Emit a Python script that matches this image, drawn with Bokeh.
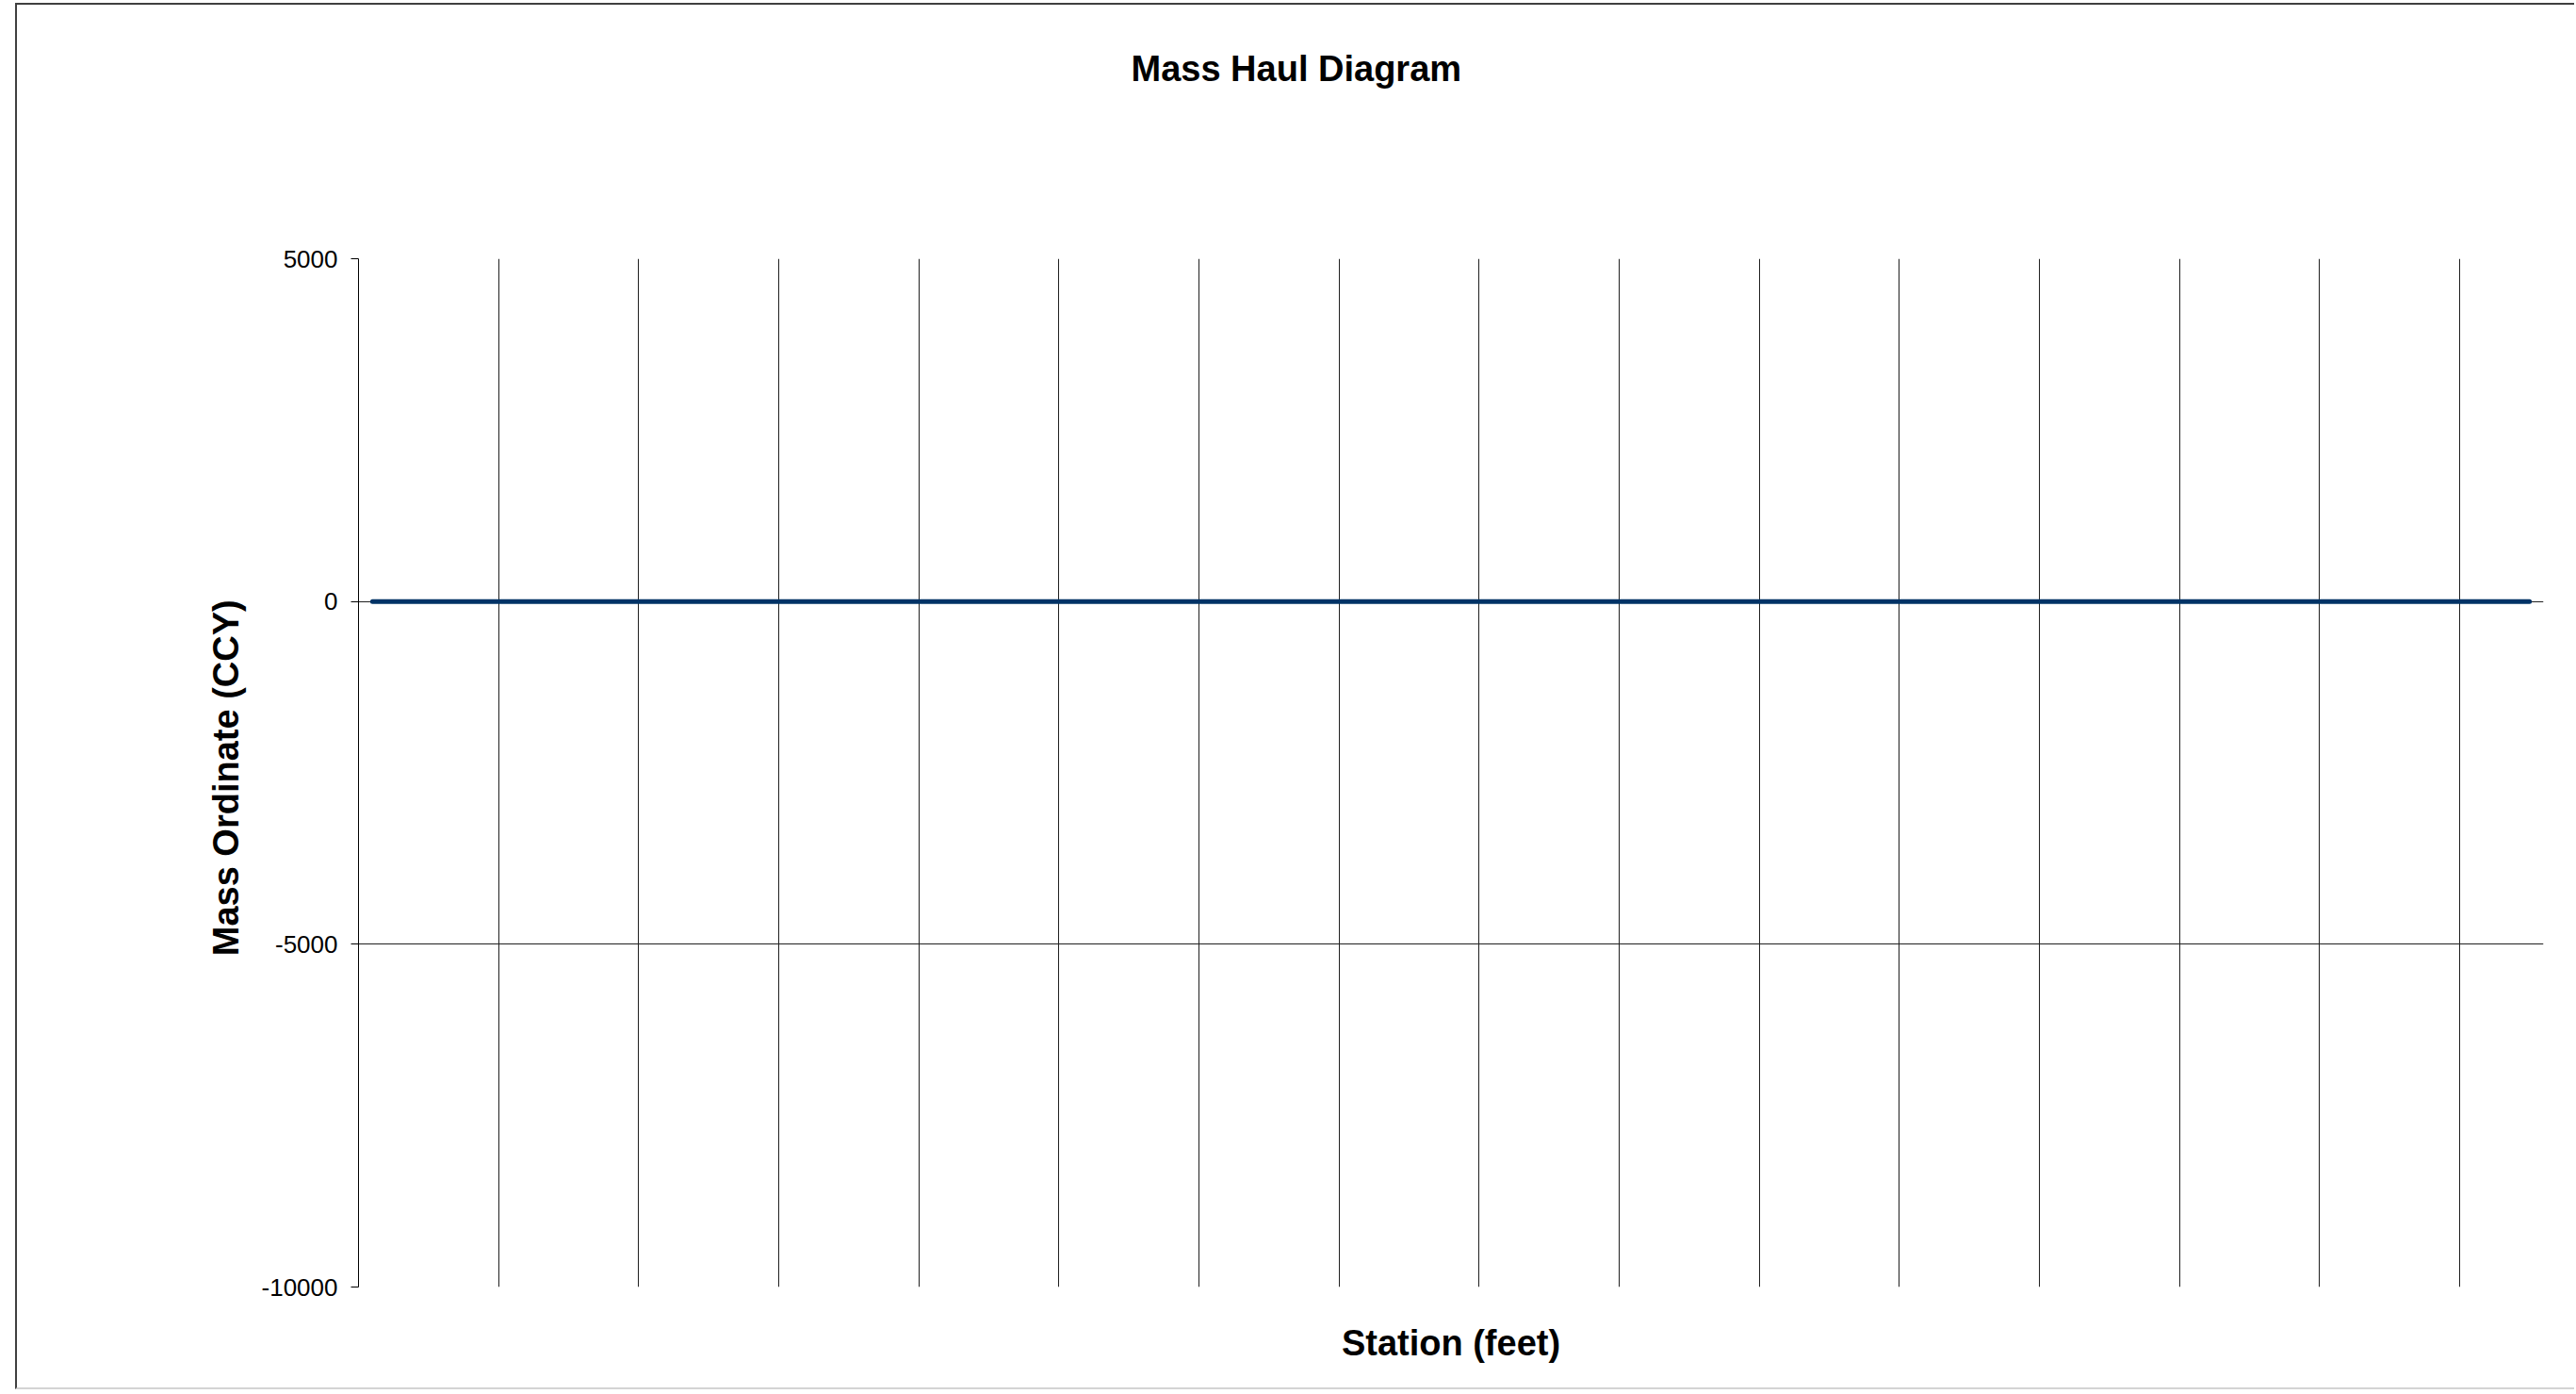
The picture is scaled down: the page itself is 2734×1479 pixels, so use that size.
from bokeh.plotting import figure
from bokeh.models import Range1d, FixedTicker, Title, CustomJSTickFormatter
from bokeh.embed import file_html
from bokeh.resources import INLINE

# Station numbers (100-ft stations) and mass ordinates (CCY)
stations = [0, 1, 2, 3, 4, 5, 6, 7, 8, 9,
            10, 11, 12, 13, 14, 15, 16, 17, 18, 19,
            20, 21, 22, 23, 24, 25, 26, 27, 28, 29,
            30, 31, 32, 33, 34, 35, 36, 37, 38, 39,
            40, 41, 42, 43, 44, 45, 46, 47, 48, 49,
            50, 51, 52, 53, 54, 55, 56, 57, 58, 59,
            60, 61, 62, 63, 64, 65, 66, 67, 68, 69,
            70, 71, 72, 73, 74, 75, 76, 77]
mass_ordinate = [0, 0, 0, 0, 0, 0, 0, 0, 0, 0,
                 0, 0, 0, 0, 0, 0, 0, 0, 0, 0,
                 0, 0, 0, 0, 0, 0, 0, 0, 0, 0,
                 0, 0, 0, 0, 0, 0, 0, 0, 0, 0,
                 0, 0, 0, 0, 0, 0, 0, 0, 0, 0,
                 0, 0, 0, 0, 0, 0, 0, 0, 0, 0,
                 0, 0, 0, 0, 0, 0, 0, 0, 0, 0,
                 0, 0, 0, 0, 0, 0, 0, 0]
y_ticks = [-10000, -5000, 0, 5000]
y_grid_values = [-5000, 0]
x_grid_values = [4.5, 9.5, 14.5, 19.5, 24.5, 29.5, 34.5, 39.5, 44.5,
                 49.5, 54.5, 59.5, 64.5, 69.5, 74.5]
title_text = "Mass Haul Diagram"
y_title = "Mass Ordinate  (CCY)"
x_title = "Station (feet)"

FONT = "Liberation Sans"

p = figure(width=2716, height=1471, output_backend="svg", toolbar_location=None,
           x_range=Range1d(-0.5, 77.5), y_range=Range1d(-10000, 5000),
           min_border_left=362, min_border_top=269, min_border_right=35,
           min_border_bottom=111, background_fill_color="white",
           border_fill_color="white", outline_line_color=None,
           styles={"border-left": "2px solid #404040",
                   "border-top": "2px solid #404040",
                   "border-bottom": "2px solid #d4d4d4",
                   "margin-left": "16px", "margin-top": "3px"})

# chart title, lifted well above the plot frame by bottom padding
p.add_layout(Title(text=title_text, text_font=FONT, text_font_size="38px",
                   text_font_style="bold", text_color="black", align="left",
                   vertical_align="bottom", offset=820, standoff=0,
                   padding=dict(left=0, right=0, top=0, bottom=181)), "above")

# y axis
p.yaxis.ticker = FixedTicker(ticks=y_ticks)
p.yaxis.formatter = CustomJSTickFormatter(code="return tick.toFixed(0);")
p.yaxis.axis_label = y_title
p.yaxis.axis_label_text_font = FONT
p.yaxis.axis_label_text_font_size = "38px"
p.yaxis.axis_label_text_font_style = "bold"
p.yaxis.axis_label_text_color = "black"
p.yaxis.axis_label_standoff = 14
p.yaxis.major_label_text_font = FONT
p.yaxis.major_label_text_font_size = "26px"
p.yaxis.major_label_text_color = "black"
p.yaxis.major_label_standoff = 14
p.yaxis.major_tick_out = 8
p.yaxis.major_tick_in = 0
p.yaxis.minor_tick_out = 0
p.yaxis.minor_tick_in = 0
p.yaxis.axis_line_color = "black"
p.yaxis.major_tick_line_color = "black"

# x axis (only its title is shown)
xax = p.below[0]
xax.ticker = FixedTicker(ticks=[])
xax.axis_line_color = None
xax.major_tick_out = 0
xax.major_tick_in = 0
xax.minor_tick_out = 0
xax.major_label_standoff = 0
xax.axis_label = x_title
xax.axis_label_text_font = FONT
xax.axis_label_text_font_size = "38px"
xax.axis_label_text_font_style = "bold"
xax.axis_label_text_color = "black"
xax.axis_label_standoff = 38

# grids
p.xgrid.ticker = FixedTicker(ticks=x_grid_values)
p.xgrid.grid_line_color = "#202020"
p.xgrid.grid_line_width = 1
p.ygrid.ticker = FixedTicker(ticks=y_grid_values)
p.ygrid.grid_line_color = "#202020"
p.ygrid.grid_line_width = 1

p.line(stations, mass_ordinate, line_color="#003366", line_width=5,
       line_cap="round")

open("out.html", "w").write(file_html(p, INLINE))
